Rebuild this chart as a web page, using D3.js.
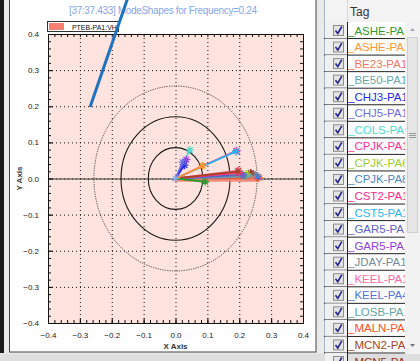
<!DOCTYPE html>
<html>
<head>
<meta charset="utf-8">
<script src="https://cdn.jsdelivr.net/npm/d3@7"></script>
<style>
body { margin: 0; background: #e9e9e9; }
svg { display: block; font-family: "Liberation Sans", Arial, sans-serif; }
</style>
</head>
<body>
<svg id="chart" width="420" height="361"></svg>
<script>
// mode shape vectors, one per tag (end point of vector starting at origin)
var tags = ["_ASHE-PA1", "_ASHE-PA2", "_BE23-PA1", "_BE50-PA1", "_CHJ3-PA1", "_CHJ5-PA1", "_COLS-PA1",
    "_CPJK-PA1", "_CPJK-PA6", "_CPJK-PA8", "_CST2-PA1", "_CST5-PA1", "_GAR5-PA1", "_GAR5-PA2",
    "_JDAY-PA1", "_KEEL-PA1", "_KEEL-PA4", "_LOSB-PA1", "_MALN-PA1", "_MCN2-PA1", "_MCN5-PA1"];
var tagColors = ["#2e9a2e", "#ff9430", "#f27462", "#6aa6a6", "#2626ee", "#6b6be2", "#4cdccc",
    "#ff2e96", "#9acd32", "#4d86bd", "#ff2a8a", "#2ab4ee", "#6060cc", "#9340dc",
    "#74889a", "#ff66a8", "#4f72dc", "#5fa4a4", "#ff5020", "#a84420", "#952e1c"];
var modeX = [0.093, 0.085, 0.240, 0.232, 0.028, 0.022, 0.045,
    0.192, 0.222, 0.250, 0.200, 0.190, 0.212, 0.034,
    0.238, 0.198, 0.258, 0.218, 0.262, 0.196, 0.236];
var modeY = [-0.009, 0.035, 0.006, 0.008, 0.037, 0.045, 0.079,
    0.077, 0.012, 0.010, 0.016, 0.075, 0.010, 0.052,
    0.013, 0.022, 0.005, 0.006, 0.002, 0.020, 0.015];

// legend series
var legendTag = "_PTEB-PA1:VH";
var legendX = [0, 0.262];
var legendY = [-0.002, -0.002];

// stray vector going out of the plot
var strayX = [-0.268, -0.13];
var strayY = [0.198, 0.55];

// reference circles
var circleR = [0.0855, 0.171, 0.256];
var circleDash = ["", "", "1.2,1.2"];

var majorTicks = [-0.4, -0.3, -0.2, -0.1, 0, 0.1, 0.2, 0.3, 0.4];
var minorTicks = d3.range(-40, 41, 2).map(function (d) { return d / 100; });

var title = "[37:37.433] ModeShapes for Frequency=0.24";

var svg = d3.select("#chart");

// background panels
svg.append("rect").attr("width", 420).attr("height", 361).attr("fill", "#e9e9e9");
svg.append("rect").attr("x", 0).attr("y", 0).attr("width", 4).attr("height", 353).attr("fill", "#1a1a1a");
svg.append("rect").attr("x", 9.5).attr("y", -2).attr("width", 306.5).attr("height", 354)
    .attr("fill", "#fff").attr("stroke", "#444").attr("stroke-width", 1);
svg.append("rect").attr("x", 0).attr("y", 354).attr("width", 420).attr("height", 7).attr("fill", "#dedede");

var x = d3.scaleLinear().domain([-0.4, 0.4]).range([48, 303]);
var y = d3.scaleLinear().domain([-0.4, 0.4]).range([323, 34]);

var fmt = d3.format(".1f");

// plot area
svg.append("rect")
    .attr("x", x(-0.4)).attr("y", y(0.4))
    .attr("width", x(0.4) - x(-0.4)).attr("height", y(-0.4) - y(0.4))
    .attr("fill", "#ffe3df");

// grid
var grid = svg.append("g").attr("stroke", "#111").attr("stroke-width", 1).attr("stroke-dasharray", "1,3");
grid.selectAll(".gx").data(majorTicks.slice(1, -1)).enter().append("line")
    .attr("x1", function (d) { return x(d) + 0.5; }).attr("x2", function (d) { return x(d) + 0.5; })
    .attr("y1", y(0.4)).attr("y2", y(-0.4));
grid.selectAll(".gy").data(majorTicks.slice(1, -1)).enter().append("line")
    .attr("y1", function (d) { return y(d) + 0.5; }).attr("y2", function (d) { return y(d) + 0.5; })
    .attr("x1", x(-0.4)).attr("x2", x(0.4));

// zero line
svg.append("line")
    .attr("x1", x(-0.4)).attr("x2", x(0.4))
    .attr("y1", y(0) + 0.5).attr("y2", y(0) + 0.5)
    .attr("stroke", "#333").attr("stroke-width", 1.2);

// circles
svg.selectAll(".ring").data(circleR).enter().append("ellipse")
    .attr("cx", x(0)).attr("cy", y(0))
    .attr("rx", function (d) { return x(d) - x(0); })
    .attr("ry", function (d) { return y(0) - y(d); })
    .attr("fill", "none")
    .attr("stroke", function (d, i) { return i == 2 ? "#333" : "#1a1a1a"; })
    .attr("stroke-width", function (d, i) { return i == 2 ? 0.9 : 1.1; })
    .attr("stroke-dasharray", function (d, i) { return circleDash[i]; });

// axes with inward ticks
function addAxis(axisFn, scale, transform, size, vals, labels) {
    var a = axisFn(scale).tickValues(vals).tickSize(size).tickPadding(labels ? 4 - size : 0);
    a.tickFormat(labels ? fmt : function () { return ""; });
    var g = svg.append("g").attr("transform", transform).call(a);
    g.select(".domain").attr("stroke", "#111");
    g.selectAll(".tick line").attr("stroke", "#111");
    g.selectAll("text").attr("font-size", 8).attr("fill", "#222");
    return g;
}
addAxis(d3.axisBottom, x, "translate(0," + y(-0.4) + ")", -3, minorTicks, false);
addAxis(d3.axisBottom, x, "translate(0," + y(-0.4) + ")", -5, majorTicks, true);
addAxis(d3.axisTop, x, "translate(0," + y(0.4) + ")", -3, minorTicks, false);
addAxis(d3.axisLeft, y, "translate(" + x(-0.4) + ",0)", -3, minorTicks, false);
addAxis(d3.axisLeft, y, "translate(" + x(-0.4) + ",0)", -5, majorTicks, true);
addAxis(d3.axisRight, y, "translate(" + x(0.4) + ",0)", -3, minorTicks, false);

svg.append("text").attr("x", x(0)).attr("y", 349).attr("text-anchor", "middle")
    .attr("font-size", 8).attr("font-weight", "bold").attr("fill", "#333").text("X Axis");
svg.append("text").attr("transform", "translate(22," + y(0) + ") rotate(-90)").attr("text-anchor", "middle")
    .attr("font-size", 8).attr("font-weight", "bold").attr("fill", "#333").text("Y Axis");

// title
svg.append("text").attr("x", 163).attr("y", 14).attr("text-anchor", "middle")
    .attr("font-size", 10).attr("fill", "#86a6ea").attr("textLength", 188)
    .text(title);

// legend
svg.append("rect").attr("x", 47.5).attr("y", 21.5).attr("width", 71).attr("height", 10)
    .attr("fill", "#fff").attr("stroke", "#333");
svg.append("rect").attr("x", 49).attr("y", 23).attr("width", 15).attr("height", 7).attr("fill", "#f5806f");
svg.append("text").attr("x", 68).attr("y", 30).attr("font-size", 7).attr("fill", "#111").text(legendTag);

// asterisk marker
function star(g, cx, cy, color) {
    var r = 4, p = "";
    [0, 45, 90, 135].forEach(function (a) {
        var t = a * Math.PI / 180, dx = r * Math.cos(t), dy = r * Math.sin(t);
        p += "M" + (cx - dx) + "," + (cy - dy) + "L" + (cx + dx) + "," + (cy + dy);
    });
    g.append("path").attr("d", p).attr("stroke", color).attr("stroke-width", 1.2).attr("fill", "none");
}

var vec = svg.append("g");

// legend series band
vec.append("line")
    .attr("x1", x(legendX[0])).attr("y1", y(legendY[0]))
    .attr("x2", x(legendX[1])).attr("y2", y(legendY[1]))
    .attr("stroke", "#f5806f").attr("stroke-width", 5).attr("opacity", 0.9);

// vectors along x first, then the raised ones on top
var order = d3.range(tags.length).sort(function (a, b) { return modeX[b] - modeX[a]; });
order.forEach(function (i) {
    vec.append("line")
        .attr("x1", x(0)).attr("y1", y(0))
        .attr("x2", x(modeX[i])).attr("y2", y(modeY[i]))
        .attr("stroke", tagColors[i]).attr("stroke-width", 1.8);
    star(vec, x(modeX[i]), y(modeY[i]), tagColors[i]);
});
star(vec, x(0), y(0), "#7fa8e8");

// stray vector
svg.append("line")
    .attr("x1", x(strayX[0])).attr("y1", y(strayY[0]))
    .attr("x2", x(strayX[1])).attr("y2", y(strayY[1]))
    .attr("stroke", "#1f72bf").attr("stroke-width", 3);

// ---- tag table ----
var tbl = svg.append("g");
var tx0 = 324, tx1 = 347, tx2 = 405, rowH = 16.55, headH = 22;

tbl.append("rect").attr("x", tx0).attr("y", 0).attr("width", 420 - tx0).attr("height", 354).attr("fill", "#fff");
tbl.append("rect").attr("x", tx0).attr("y", 0).attr("width", tx2 - tx0).attr("height", headH)
    .attr("fill", "#f3f3f3");
tbl.append("line").attr("x1", tx0 + 0.5).attr("x2", tx0 + 0.5).attr("y1", 0).attr("y2", 354)
    .attr("stroke", "#a8b6cc");
tbl.append("line").attr("x1", tx1 + 0.5).attr("x2", tx1 + 0.5).attr("y1", 0).attr("y2", headH)
    .attr("stroke", "#d8d8d8");
tbl.append("text").attr("x", 350).attr("y", 16).attr("font-size", 12).attr("fill", "#333").text("Tag");

// clip for cell text (in row-local coordinates)
var clip = svg.append("clipPath").attr("id", "cellclip");
clip.append("rect").attr("x", tx1).attr("y", -2).attr("width", tx2 - tx1).attr("height", rowH + 4);

var rows = tbl.selectAll(".row").data(tags).enter().append("g")
    .attr("transform", function (d, i) { return "translate(0," + (headH + i * rowH) + ")"; });
rows.append("rect").attr("x", tx0 + 1).attr("y", 0).attr("width", tx1 - tx0 - 1).attr("height", rowH)
    .attr("fill", "#f0f0f0");
rows.append("rect").attr("x", 333.5).attr("y", 3.5).attr("width", 10).attr("height", 10)
    .attr("fill", "#e4e4e4").attr("stroke", "#8d8d8d");
rows.append("path").attr("d", "M335.5,8.5 L337.8,11.5 L341.8,4.5")
    .attr("stroke", "#24248c").attr("stroke-width", 1.6).attr("fill", "none");
rows.append("line").attr("x1", tx0).attr("x2", tx2).attr("y1", rowH).attr("y2", rowH)
    .attr("stroke", "#222").attr("stroke-width", 1);
rows.append("line").attr("x1", tx1 + 0.5).attr("x2", tx1 + 0.5).attr("y1", 0).attr("y2", rowH)
    .attr("stroke", "#222");
rows.append("text").attr("x", 348).attr("y", 12.5).attr("font-size", 11.5)
    .attr("clip-path", "url(#cellclip)")
    .attr("fill", function (d, i) { return tagColors[i]; })
    .text(function (d) { return d; });

// scrollbar
var sb = svg.append("g");
sb.append("rect").attr("x", tx2).attr("y", headH).attr("width", 420 - tx2).attr("height", 354 - headH).attr("fill", "#f2f2f2");
sb.append("rect").attr("x", tx2).attr("y", 0).attr("width", 420 - tx2).attr("height", headH).attr("fill", "#f3f3f3");
sb.append("rect").attr("x", 407.5).attr("y", 37.5).attr("width", 10).attr("height", 195)
    .attr("fill", "#e6e6e6").attr("stroke", "#cfcfcf");
sb.append("path").attr("d", "M409,133.5h7M409,135.5h7M409,137.5h7").attr("stroke", "#999");
sb.append("path").attr("d", "M410,31 L412.5,28 L415,31Z").attr("fill", "#aaa");
sb.append("path").attr("d", "M410,344 L412.5,347 L415,344Z").attr("fill", "#777");
</script>
</body>
</html>
